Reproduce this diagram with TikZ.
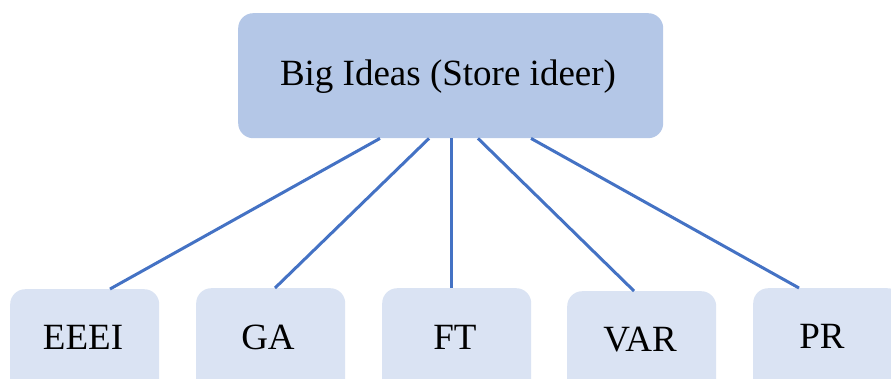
\documentclass[tikz,border=0pt]{standalone}
\usepackage{fontspec}
\setmainfont{Liberation Serif}
\definecolor{topfill}{HTML}{B4C7E7}
\definecolor{subfill}{HTML}{DAE3F3}
\definecolor{linkblue}{HTML}{4472C4}
\begin{document}
\begin{tikzpicture}[x=1pt,y=-1pt,
  bigbox/.style={fill=topfill,rounded corners=15pt,minimum width=425pt,minimum height=125pt,anchor=north west,inner sep=0pt},
  subbox/.style={fill=subfill,rounded corners=15pt,minimum width=149pt,minimum height=130pt,anchor=north west,inner sep=0pt},
  lbl/.style={font=\fontsize{37}{40}\selectfont,inner sep=0pt},
  link/.style={draw=linkblue,line width=3pt}]
\useasboundingbox (0,0) rectangle (891,378);
\clip (0,0) rectangle (891,378);
\node[bigbox] (top) at (238,13) {};
\node[subbox] (b1) at (10,289) {};
\node[subbox] (b2) at (196,288) {};
\node[subbox] (b3) at (382,288) {};
\node[subbox] (b4) at (567,291) {};
\node[subbox] (b5) at (753,288) {};
\node[lbl] (ttop) at (448,77) {Big Ideas (Store ideer)};
\node[lbl] (t1) at (83,337) {EEEI};
\node[lbl] (t2) at (268,337) {GA};
\node[lbl] (t3) at (455,337) {FT};
\node[lbl] (t4) at (640,340) {VAR};
\node[lbl] (t5) at (822,336) {PR};
\draw[link] (top.south -| 380,0) -- (b1.north -| 110,0);
\draw[link] (top.south -| 429,0) -- (b2.north -| 275,0);
\draw[link] (top.south -| 451,0) -- (b3.north -| 451,0);
\draw[link] (top.south -| 478,0) -- (b4.north -| 634,0);
\draw[link] (top.south -| 531,0) -- (b5.north -| 799,0);
\end{tikzpicture}
\end{document}
